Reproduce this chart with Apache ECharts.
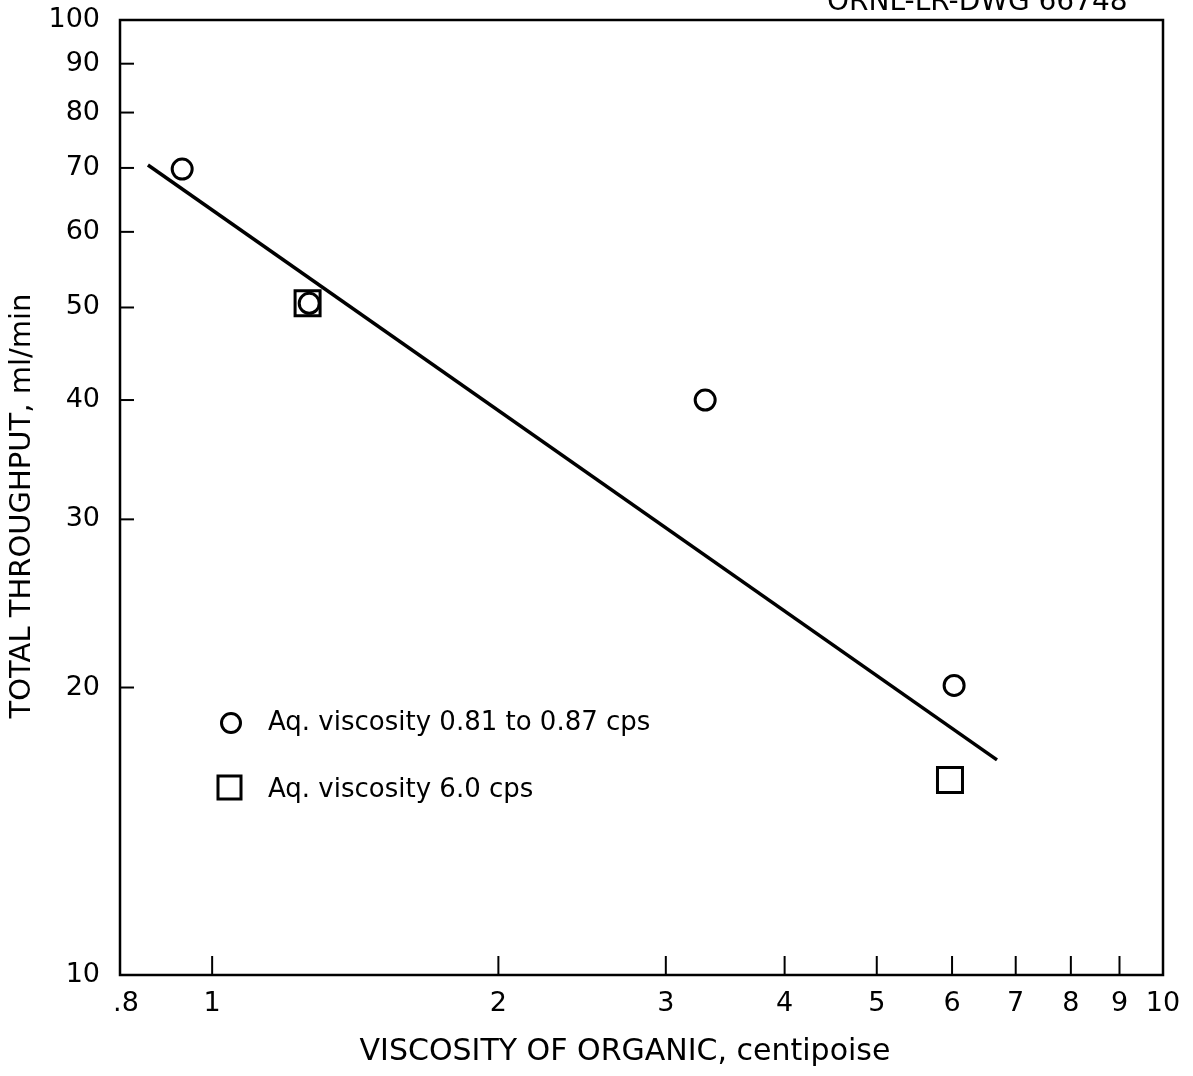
<!DOCTYPE html>
<html>
<head>
<meta charset="utf-8">
<script src="https://cdn.jsdelivr.net/npm/echarts@6/dist/echarts.min.js"></script>
<style>
  html, body { margin: 0; padding: 0; background: #fff; }
  #chart { width: 1193px; height: 1076px; }
</style>
</head>
<body>
<div id="chart"></div>
<script>
// aqueous viscosity 0.81-0.87 cps (circles)
const circleX = [0.93, 1.265, 3.30, 6.03]
const circleY = [69.8, 50.5, 40, 20.1]
// aqueous viscosity 6.0 cps (squares)
const squareX = [1.26, 5.97]
const squareY = [50.5, 16.0]
// drawn fit line
const fitX = [0.856, 6.69]
const fitY = [70.5, 16.8]

const xTicks = [0.8, 1, 2, 3, 4, 5, 6, 7, 8, 9, 10]
const xTickLabels = ['.8', '1', '2', '3', '4', '5', '6', '7', '8', '9', '10']
const yTicks = [10, 20, 30, 40, 50, 60, 70, 80, 90, 100]
const yTickLabels = ['10', '20', '30', '40', '50', '60', '70', '80', '90', '100']

const xMin = 0.8, xMax = 10, yMin = 10, yMax = 100
const font = '"DejaVu Sans", sans-serif'

const chart = echarts.init(document.getElementById('chart'))

const pairs = (xs, ys) => xs.map((x, i) => [x, ys[i]])

const xTickSeries = {
  type: 'custom',
  silent: true,
  data: xTicks.map((v, i) => [v, yMin, xTickLabels[i]]),
  renderItem: (params, api) => {
    const v = api.value(0)
    const p = api.coord([v, yMin])
    const children = []
    if (v > xMin && v < xMax) {
      children.push({
        type: 'line',
        shape: {x1: p[0], y1: p[1], x2: p[0], y2: p[1] - 19},
        style: {stroke: '#000', lineWidth: 2}
      })
    }
    children.push({
      type: 'text',
      x: p[0] + (v === xMin ? 6 : 0),
      y: p[1] + 29,
      style: {
        text: xTickLabels[params.dataIndex],
        fill: '#000',
        font: '27px ' + font,
        textAlign: 'center',
        textVerticalAlign: 'middle'
      }
    })
    return {type: 'group', children}
  }
}

const yTickSeries = {
  type: 'custom',
  silent: true,
  data: yTicks.map((v, i) => [xMin, v, yTickLabels[i]]),
  renderItem: (params, api) => {
    const v = api.value(1)
    const p = api.coord([xMin, v])
    const children = []
    if (v > yMin && v < yMax) {
      children.push({
        type: 'line',
        shape: {x1: p[0], y1: p[1], x2: p[0] + 14, y2: p[1]},
        style: {stroke: '#000', lineWidth: 2}
      })
    }
    children.push({
      type: 'text',
      x: p[0] - 20,
      y: p[1],
      style: {
        text: yTickLabels[params.dataIndex],
        fill: '#000',
        font: '27px ' + font,
        textAlign: 'right',
        textVerticalAlign: 'middle'
      }
    })
    return {type: 'group', children}
  }
}

chart.setOption({
  backgroundColor: '#fff',
  animation: false,
  grid: {
    left: 120, right: 30, top: 20, bottom: 101,
    show: true, borderColor: '#000', borderWidth: 2.5, backgroundColor: 'transparent'
  },
  xAxis: {
    type: 'log', logBase: 10, min: xMin, max: xMax,
    axisLine: {show: false}, axisTick: {show: false},
    axisLabel: {show: false}, splitLine: {show: false}
  },
  yAxis: {
    type: 'log', logBase: 10, min: yMin, max: yMax,
    axisLine: {show: false}, axisTick: {show: false},
    axisLabel: {show: false}, splitLine: {show: false}
  },
  graphic: [
    {
      type: 'text', left: 827, top: -11,
      style: {text: 'ORNL-LR-DWG 66748', fill: '#000', font: '28px ' + font}
    },
    {
      type: 'text', x: 625, y: 1052,
      style: {
        text: 'VISCOSITY OF ORGANIC, centipoise', fill: '#000', font: '30px ' + font,
        textAlign: 'center', textVerticalAlign: 'middle'
      }
    },
    {
      type: 'text', x: 22, y: 506, rotation: Math.PI / 2,
      style: {
        text: 'TOTAL THROUGHPUT, ml/min', fill: '#000', font: '29px ' + font,
        textAlign: 'center', textVerticalAlign: 'middle'
      }
    },
    {
      type: 'circle', shape: {cx: 231, cy: 723, r: 9.5},
      style: {fill: 'none', stroke: '#000', lineWidth: 3}
    },
    {
      type: 'text', x: 268, y: 723,
      style: {
        text: 'Aq. viscosity 0.81 to 0.87 cps', fill: '#000', font: '26px ' + font,
        textVerticalAlign: 'middle'
      }
    },
    {
      type: 'rect', shape: {x: 218, y: 776, width: 23, height: 23},
      style: {fill: 'none', stroke: '#000', lineWidth: 3}
    },
    {
      type: 'text', x: 268, y: 790,
      style: {
        text: 'Aq. viscosity 6.0 cps', fill: '#000', font: '26px ' + font,
        textVerticalAlign: 'middle'
      }
    }
  ],
  series: [
    {
      type: 'line',
      data: pairs(fitX, fitY),
      symbol: 'none',
      lineStyle: {color: '#000', width: 3.5}
    },
    {
      type: 'scatter',
      data: pairs(squareX, squareY),
      symbol: 'rect',
      symbolSize: 25,
      itemStyle: {color: 'rgba(0,0,0,0)', borderColor: '#000', borderWidth: 3, opacity: 1}
    },
    {
      type: 'scatter',
      data: pairs(circleX, circleY),
      symbol: 'circle',
      symbolSize: 20,
      itemStyle: {color: 'rgba(0,0,0,0)', borderColor: '#000', borderWidth: 3, opacity: 1}
    },
    xTickSeries,
    yTickSeries
  ]
})
</script>
</body>
</html>
